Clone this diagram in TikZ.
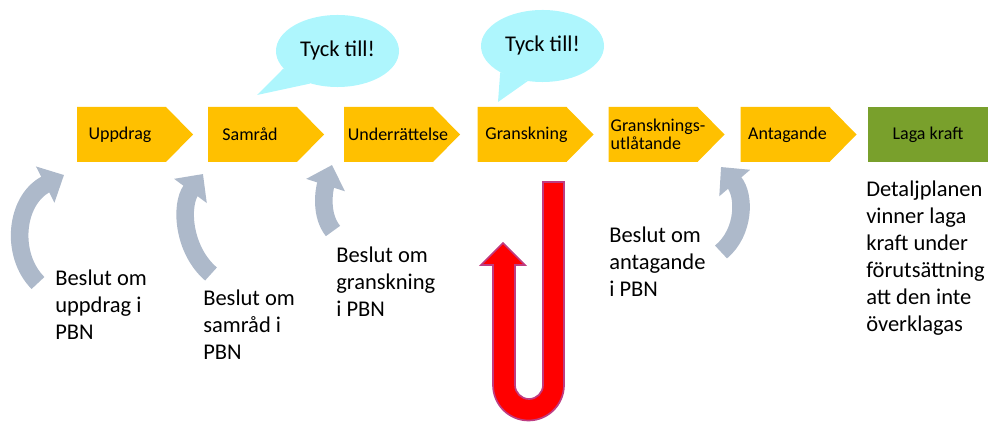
\documentclass[tikz,border=0pt]{standalone}
\usepackage{fontspec}
\setmainfont{Carlito}
\usetikzlibrary{shapes.geometric, arrows.meta, backgrounds}
\definecolor{boxyellow}{RGB}{255,192,0}
\definecolor{lagagreen}{RGB}{121,160,44}
\definecolor{bubblecyan}{RGB}{174,246,253}
\definecolor{decgray}{RGB}{173,185,202}
\definecolor{ured}{RGB}{255,0,0}
\definecolor{upurple}{RGB}{190,60,130}
\tikzstyle{stepbox} = [rectangle, inner sep=0pt, text centered, font=\fontsize{12.8}{13}\selectfont]
\tikzstyle{finalbox} = [rectangle, minimum width=3cm, minimum height=1.375cm, inner sep=0pt, text centered, fill=lagagreen, font=\fontsize{12.8}{13}\selectfont]
\tikzstyle{bubble} = [ellipse, minimum width=3.075cm, minimum height=1.8cm, inner sep=0pt, fill=bubblecyan, font=\fontsize{16}{19}\selectfont]
\tikzstyle{note} = [anchor=north west, align=left, inner sep=0pt, font=\fontsize{16}{19.2}\selectfont]
\tikzstyle{decarrow} = [draw=decgray, line width=12.5pt, line cap=butt, -{Triangle[length=15pt, width=28pt]}]
\tikzstyle{uarrow} = [fill=ured, draw=upurple, line width=1.2pt, line join=miter]

\begin{document}
\begin{tikzpicture}[x=0.025cm, y=-0.025cm]
\useasboundingbox (0,0) rectangle (990,425);

% process steps
\node (upp) [stepbox] at (120,134.5) {Uppdrag};
\node (sam) [stepbox] at (250,134.5) {Samråd};
\node (und) [stepbox] at (398,134.5) {Underrättelse};
\node (gra) [stepbox] at (526.5,134.5) {Granskning};
\node (gru) [stepbox, align=left] at (658,134.5) {Gransknings-\\utlåtande};
\node (ant) [stepbox] at (787.5,134.5) {Antagande};
\node (laga) [finalbox] at (928,134.5) {Laga kraft};
\begin{pgfonlayer}{background}
  \foreach \n/\dx in {upp/1.5,sam/2.5,und/-9.5,gra/-4.5,gru/-5,ant/-2.5}
    \fill [boxyellow] ([shift={(\dx-44.5,-27.5)}]\n.center) -- ([shift={(\dx+44.5,-27.5)}]\n.center)
      -- ([shift={(\dx+71.5,0)}]\n.center) -- ([shift={(\dx+44.5,27.5)}]\n.center)
      -- ([shift={(\dx-44.5,27.5)}]\n.center) -- cycle;
\end{pgfonlayer}

% speech bubbles
\node (tyck1) [bubble] at (337.5,51) {Tyck till!};
\coordinate (tip1) at (257,95);
\fill [bubblecyan] (tyck1.198) -- (tip1) -- (tyck1.230) -- cycle;
\node (tyck2) [bubble] at (542.5,46) {Tyck till!};
\coordinate (tip2) at (498,102);
\fill [bubblecyan] (tyck2.212) -- (tip2) -- (tyck2.247) -- cycle;

% decisions
\node (bupp) [note] at (55,270) {Beslut om\\uppdrag i\\PBN};
\node (bsam) [note] at (203,290) {Beslut om\\samråd i\\PBN};
\node (bgra) [note] at (336,247) {Beslut om\\granskning\\i PBN};
\node (bant) [note] at (609,227) {Beslut om\\antagande\\i PBN};
\node (dpl) [note] at (866,181) {Detaljplanen\\vinner laga\\kraft under\\förutsättning\\att den inte\\överklagas};

\draw [decarrow] (38,283) .. controls (10,255) and (15,200) .. (64,175);
\draw [decarrow] (211,274) .. controls (183,250) and (180,205) .. (203,174);
\draw [decarrow] (333,231) .. controls (320,215) and (324,190) .. (332,165);
\draw [decarrow] (721,252) .. controls (745,232) and (745,195) .. (721,167);

% return arrow
\filldraw [uarrow] (543,182) -- (564,182) -- (564,385) arc[start angle=0, end angle=180, radius=35.5]
  -- (493,265) -- (481,265) -- (503,243) -- (525,265) -- (515,265) -- (515,385)
  arc[start angle=180, end angle=0, radius=14] -- cycle;
\end{tikzpicture}
\end{document}
